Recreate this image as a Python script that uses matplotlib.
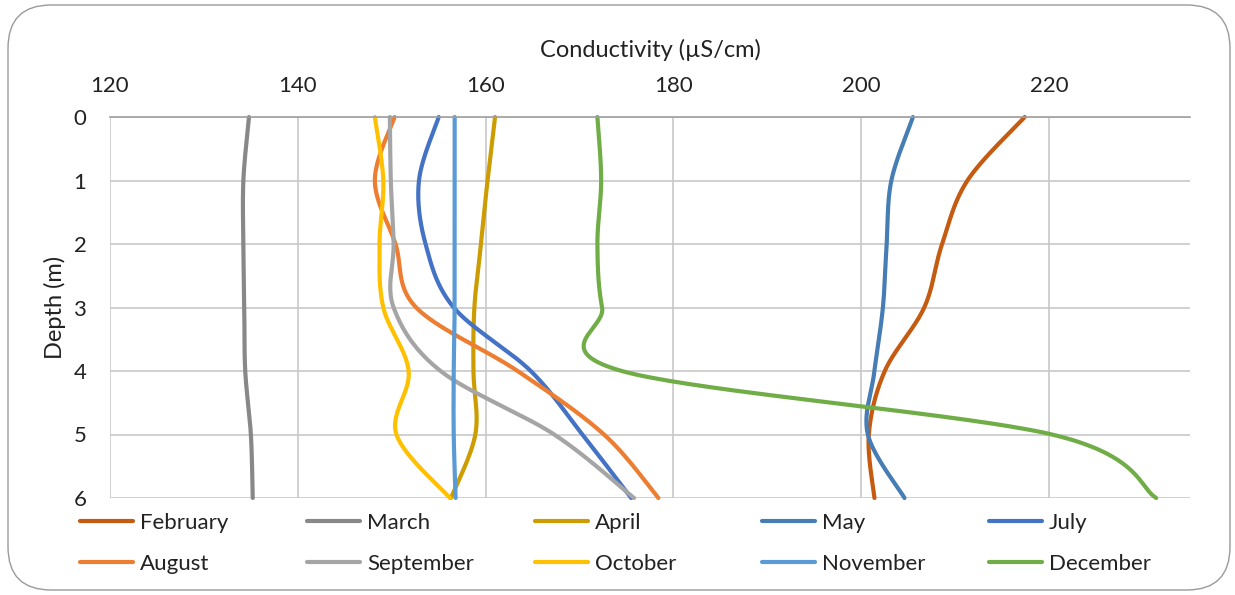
import numpy as np
import matplotlib
matplotlib.use("Agg")
import matplotlib.pyplot as plt
from matplotlib.patches import FancyBboxPatch

depth = [0, 1, 2, 3, 4, 5, 6]
months = ["February", "March", "April", "May", "July",
          "August", "September", "October", "November", "December"]
february = [217.4, 211.3, 208.6, 206.7, 202.5, 200.8, 201.4]
march = [134.8, 134.2, 134.2, 134.3, 134.4, 135.0, 135.2]
april = [161.0, 160.2, 159.5, 158.8, 158.7, 158.9, 156.3]
may = [205.5, 203.2, 202.7, 202.3, 201.4, 200.7, 204.6]
july = [155.0, 152.9, 153.6, 156.6, 164.8, 170.3, 175.5]
august = [150.3, 148.2, 150.4, 152.6, 163.4, 172.6, 178.4]
september = [149.8, 149.9, 150.2, 150.2, 155.2, 167.3, 175.8]
october = [148.2, 149.1, 148.7, 149.1, 151.8, 150.5, 156.2]
november = [156.7, 156.7, 156.7, 156.7, 156.6, 156.6, 156.8]
december = [171.9, 172.3, 171.9, 172.4, 174.5, 220.3, 231.4]
series = [february, march, april, may, july, august, september, october, november, december]
colors = ["#C55A11", "#888888", "#CC9C00", "#467DB4", "#4472C4",
          "#ED7D31", "#A5A5A5", "#FFC000", "#5B9BD5", "#70AD47"]
xticks = [120, 140, 160, 180, 200, 220]


def smooth(xs, ys, n=40):
    P = np.column_stack([xs, ys]).astype(float)
    P = np.vstack([P[0], P, P[-1]])
    out = []
    for i in range(1, len(P) - 2):
        p0, p1, p2, p3 = P[i - 1], P[i], P[i + 1], P[i + 2]
        c1 = p1 + (p2 - p0) / 6.0
        c2 = p2 - (p3 - p1) / 6.0
        t = np.linspace(0, 1, n)[:, None]
        seg = ((1 - t) ** 3) * p1 + 3 * ((1 - t) ** 2) * t * c1 + 3 * (1 - t) * t ** 2 * c2 + t ** 3 * p2
        out.append(seg if i == 1 else seg[1:])
    out = np.vstack(out)
    return out[:, 0], out[:, 1]


plt.rcParams['font.family'] = ['Lato', 'DejaVu Sans']
fig = plt.figure(figsize=(12.35, 5.95), dpi=100)
fig.patches.append(FancyBboxPatch((8 / 1235, 5 / 595), 1222 / 1235, 585 / 595,
                                  boxstyle="round,pad=0,rounding_size=0.035",
                                  transform=fig.transFigure, facecolor="white",
                                  edgecolor="#9A9A9A", linewidth=1.0, zorder=-10,
                                  mutation_aspect=1235 / 595))

ax = fig.add_axes([110 / 1235, 1 - 498 / 595, 1080 / 1235, 381 / 595])
ax.set_facecolor("none")
ax.set_xlim(120, 235)
ax.set_ylim(6, 0)
ax.xaxis.tick_top()
ax.xaxis.set_label_position("top")
ax.set_xticks(xticks)
ax.set_yticks(depth)
ax.tick_params(length=0, labelsize=16, colors="#222222")
ax.tick_params(axis='x', pad=15)
ax.tick_params(axis='y', pad=17)
ax.grid(True, color="#C8C8C8", linewidth=1.2)
for s in ["left", "right", "bottom"]:
    ax.spines[s].set_visible(False)
ax.spines["top"].set_color("#A0A0A0")
ax.spines["top"].set_linewidth(1.2)
ax.set_xlabel("Conductivity (µS/cm)", fontsize=17, color="#222222", labelpad=14)
ax.set_ylabel("Depth (m)", fontsize=17, color="#222222", labelpad=5)

lines = []
for vals, c, m in zip(series, colors, months):
    sx, sy = smooth(vals, depth)
    ln, = ax.plot(sx, sy, color=c, lw=3.0, solid_capstyle="round", label=m, clip_on=False)
    lines.append(ln)

col_x = [69, 296, 524, 751, 978]
for j in range(5):
    hs = [lines[j], lines[j + 5]]
    fig.legend(hs, [months[j], months[j + 5]], loc="upper left",
               bbox_to_anchor=(col_x[j] / 1235, 1 - 502 / 595),
               frameon=False, fontsize=16, handlelength=2.4,
               handletextpad=0.3, labelspacing=0.95, borderpad=0,
               labelcolor="#222222")

fig.savefig("out.png", dpi=100)
